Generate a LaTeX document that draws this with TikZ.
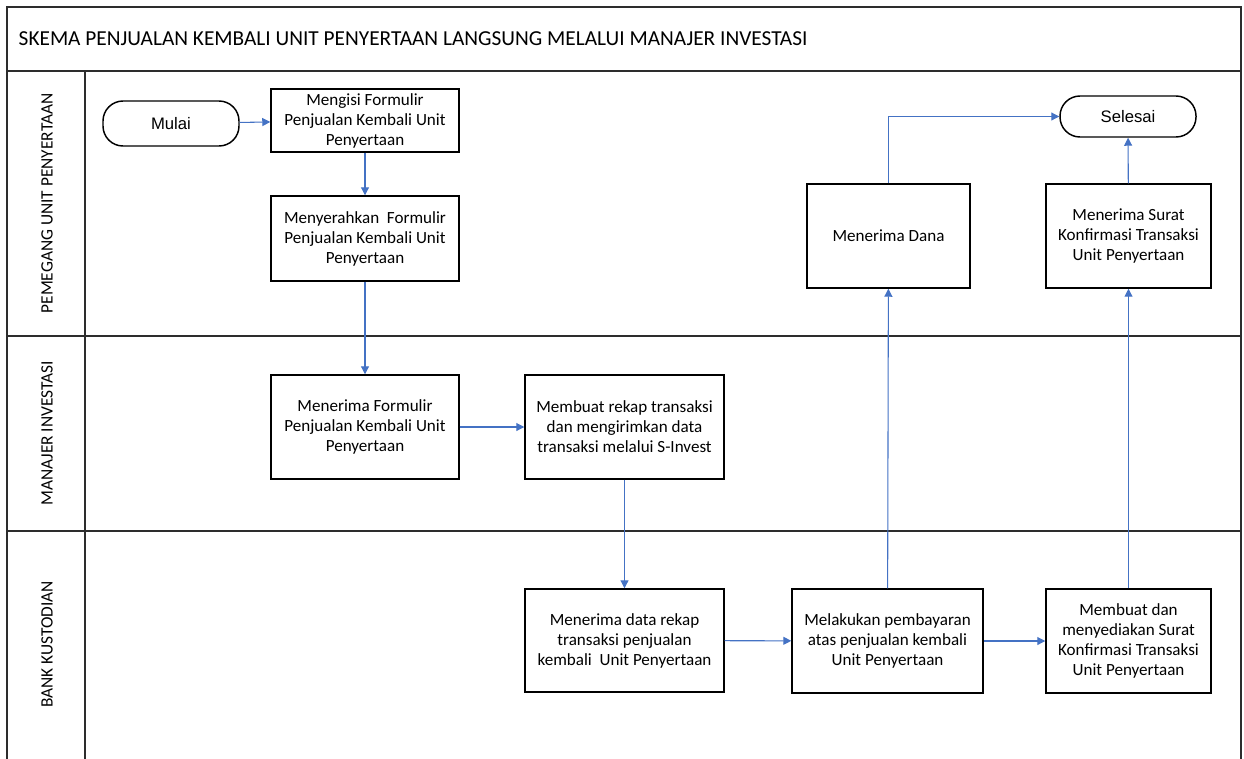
\documentclass[tikz,border=0pt]{standalone}
\usepackage{fontspec}
\setmainfont{Carlito}
\newfontfamily\arialfont{Liberation Sans}
\usetikzlibrary{arrows.meta}
\usetikzlibrary{positioning}

\definecolor{flowblue}{RGB}{68,114,196}
\definecolor{laneline}{RGB}{45,45,45}

\begin{document}
\begin{tikzpicture}[x=0.75pt,y=-0.75pt,>={Triangle[length=6pt,width=6pt]},
    lane/.style={draw=laneline,line width=1.5pt},
    box/.style={draw,line width=1.1pt,align=center,inner sep=2pt,font=\fontsize{12.8}{15}\selectfont},
    terminal/.style={draw,line width=1.1pt,rounded corners=15pt,font=\arialfont\fontsize{12.5}{14}\selectfont,minimum width=102pt},
    lanelabel/.style={rotate=90,font=\fontsize{13}{15}\selectfont},
    flow/.style={->,color=flowblue,line width=0.8pt}]

      \useasboundingbox (0,0) rectangle (1244,758);

      % swimlanes
      \draw[lane] (7,762) -- (7,7) -- (1241,7) -- (1241,762);
      \draw[lane] (7,71) -- (1241,71);
      \draw[lane] (7,336) -- (1241,336);
      \draw[lane] (7,531) -- (1241,531);
      \draw[lane] (85,71) -- (85,762);

      \node (title) [anchor=west,font=\fontsize{16}{19}\selectfont] at (14,39) {SKEMA PENJUALAN KEMBALI UNIT PENYERTAAN LANGSUNG MELALUI MANAJER INVESTASI};
      \node (pemegang) [lanelabel] at (47,203.5) {PEMEGANG UNIT PENYERTAAN};
      \node (manajer) [lanelabel] at (47,433.5) {MANAJER INVESTASI};
      \node (bank) [lanelabel] at (47,644.5) {BANK KUSTODIAN};

      % pemegang unit penyertaan
      \node (mulai) [terminal,minimum height=33.75pt] at (171,123.5) {Mulai};
      \node (mengisi) [box,minimum width=141pt,minimum height=47.25pt] at (365,120.5) {Mengisi Formulir\\Penjualan Kembali Unit\\Penyertaan};
      \node (menyerahkan) [box,minimum width=141pt,minimum height=63.75pt] at (365,238.5) {Menyerahkan\ \ Formulir\\Penjualan Kembali Unit\\Penyertaan};
      \node (dana) [box,minimum width=122.25pt,minimum height=78pt] at (888.5,236) {Menerima Dana};
      \node (surat) [box,minimum width=123.75pt,minimum height=78pt] at (1128.5,236) {Menerima Surat\\Konfirmasi Transaksi\\Unit Penyertaan};
      \node (selesai) [terminal,minimum height=30.75pt] at (1128,116.5) {Selesai};

      % manajer investasi
      \node (terima) [box,minimum width=141pt,minimum height=78pt] at (365,427) {Menerima Formulir\\Penjualan Kembali Unit\\Penyertaan};
      \node (rekap) [box,minimum width=149.25pt,minimum height=78pt] at (624.5,427) {Membuat rekap transaksi\\dan mengirimkan data\\transaksi melalui S-Invest};

      % bank kustodian
      \node (data) [box,minimum width=149.25pt,minimum height=77.25pt] at (624.5,640.5) {Menerima data rekap\\transaksi penjualan\\kembali\ \ Unit Penyertaan};
      \node (bayar) [box,minimum width=143.25pt,minimum height=78pt] at (887.5,641) {Melakukan pembayaran\\atas penjualan kembali\\Unit Penyertaan};
      \node (konfirmasi) [box,minimum width=123.75pt,minimum height=78pt] at (1128.5,641) {Membuat dan\\menyediakan Surat\\Konfirmasi Transaksi\\Unit Penyertaan};

      \path[flow]
        (mulai) edge (mengisi)
        (mengisi) edge (menyerahkan)
        (menyerahkan) edge (terima)
        (terima) edge (rekap)
        (rekap) edge (data)
        (data) edge (bayar)
        (bayar) edge (konfirmasi)
        (bayar) edge (dana)
        (konfirmasi) edge (surat)
        (surat) edge (selesai);
      \draw[flow] (dana.north) |- (selesai.west);
    \end{tikzpicture}
\end{document}
